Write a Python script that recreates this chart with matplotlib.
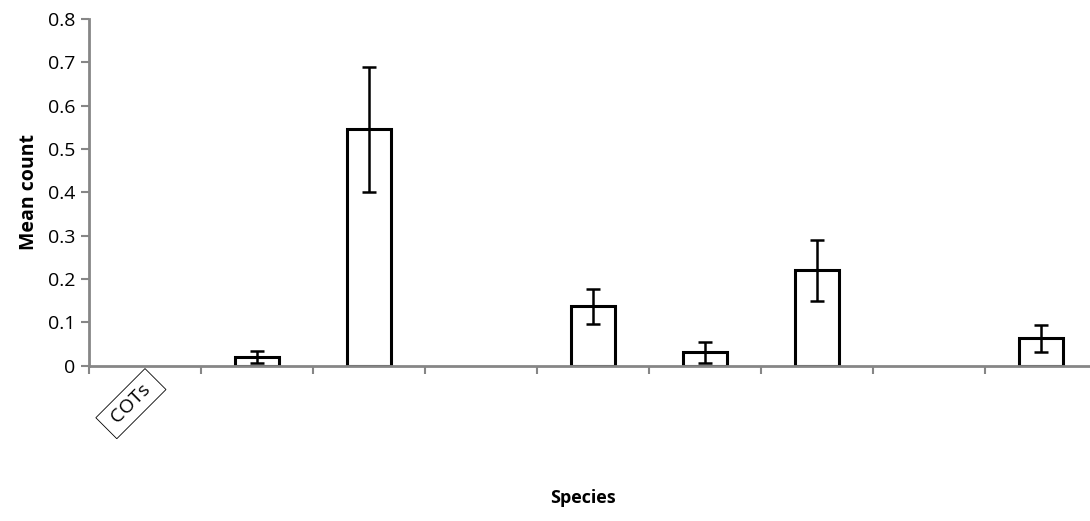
import numpy as np
import matplotlib.pyplot as plt

plt.rcParams['font.family'] = ['Open Sans', 'DejaVu Sans']

categories = ['COTs', '', '', '', '', '', '', '', '']
means = [0, 0.02, 0.547, 0, 0.137, 0.031, 0.221, 0, 0.065]
err_low = [0, 0.014, 0.147, 0, 0.041, 0.024, 0.071, 0, 0.034]
err_high = [0, 0.013, 0.143, 0, 0.041, 0.024, 0.068, 0, 0.028]
has_err = [False, True, True, False, True, True, True, False, True]

gray = '#868686'

fig = plt.figure(figsize=(10.9, 5.21), dpi=100)
ax = fig.add_axes([89/1090, 155.3/521, 1008/1090, 346.7/521])

x = np.arange(len(categories))
edges = ['black' if m > 0 else 'none' for m in means]
ax.bar(x, means, width=0.4, color='white', edgecolor=edges, linewidth=2.2, zorder=2)

xe = x[has_err]
ax.errorbar(xe, np.array(means)[has_err],
            yerr=[np.array(err_low)[has_err], np.array(err_high)[has_err]],
            fmt='none', ecolor='black', elinewidth=1.8, capsize=5, capthick=1.8, zorder=3)

ax.set_xlim(-0.5, len(categories) - 0.5)
ax.set_ylim(0, 0.8)
ax.set_yticks(np.arange(0, 0.81, 0.1))
ax.set_yticklabels(['0'] + ['%.1f' % v for v in np.arange(0.1, 0.81, 0.1)])

# pad label with spaces so the box is elongated like the original
ax.set_xticks(x)
ax.set_xticklabels([' %s ' % c if c else '' for c in categories],
                   rotation=45, ha='right', rotation_mode='anchor',
                   bbox=dict(facecolor='white', edgecolor='black', linewidth=0.6, pad=3))
ax.set_xticks(np.arange(-0.5, len(categories)), minor=True)
ax.tick_params(axis='x', which='major', length=0, pad=8, labelsize=14)
ax.tick_params(axis='x', which='minor', length=6, width=1.5, color=gray, direction='out')
ax.tick_params(axis='y', length=6, width=1.5, color=gray, labelsize=14, pad=4)

for s in ['top', 'right']:
    ax.spines[s].set_visible(False)
for s in ['left', 'bottom']:
    ax.spines[s].set_color(gray)
    ax.spines[s].set_linewidth(2)

ax.set_ylabel('Mean count', fontsize=14, fontweight='bold', labelpad=6)
fig.text(583/1090, 1 - 498/521, 'Species', fontsize=13, fontweight='bold', ha='center', va='center')

plt.savefig('out.png', dpi=100)
